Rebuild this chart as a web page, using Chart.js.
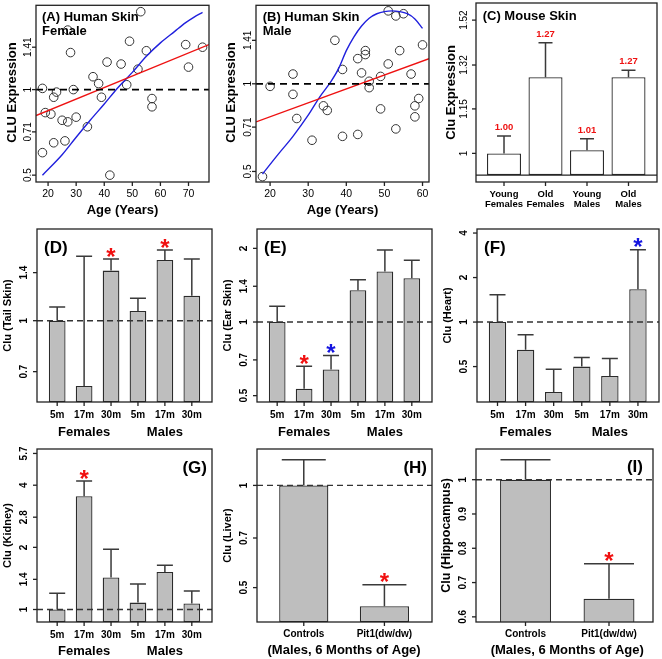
<!DOCTYPE html>
<html>
<head>
<meta charset="utf-8">
<title>Clu expression</title>
<script src="https://cdn.jsdelivr.net/npm/chart.js@4.4.1/dist/chart.umd.min.js"></script>
<style>
  body { margin: 0; background: #fff; }
  #wrap { position: relative; width: 662px; height: 659px; overflow: hidden; }
  #wrap canvas { position: absolute; left: 0; top: 0; }
</style>
</head>
<body>
<div id="wrap"></div>
<script>
var FONT = '"Liberation Sans", Arial, Helvetica, sans-serif';
var RED = '#ee1111';
var BLUE = '#2020dd';
var STAR = { red: '#f01010', blue: '#1515e0' };

// (A) human skin, female
var femaleAge = [18, 18, 19, 21, 22, 22, 23, 25, 26, 27, 27, 28, 29, 30, 34, 36, 38, 39, 41, 42, 46, 48, 49, 52, 53, 55, 57, 57, 69, 70, 75];
var femaleClu = [1.01, 0.60, 0.83, 0.82, 0.94, 0.65, 0.98, 0.78, 0.66, 1.62, 0.77, 1.35, 1.00, 0.80, 0.74, 1.11, 1.05, 0.94, 1.25, 0.50, 1.23, 1.04, 1.48, 1.18, 1.88, 1.37, 0.93, 0.87, 1.44, 1.20, 1.41];
var femaleFitAge = [15.7, 77.3];
var femaleFitClu = [0.81, 1.44];
var femaleSmoothAge = [18, 25, 30, 35, 40, 45, 50, 55, 60, 65, 69, 72, 75];
var femaleSmoothClu = [0.50, 0.59, 0.68, 0.78, 0.89, 1.02, 1.15, 1.31, 1.46, 1.60, 1.72, 1.80, 1.87];

// (B) human skin, male
var maleAge = [18, 20, 26, 26, 27, 31, 34, 35, 37, 39, 39, 43, 43, 44, 45, 45, 46, 46, 49, 49, 51, 51, 53, 53, 54, 55, 57, 58, 58, 59, 60];
var maleClu = [0.48, 0.98, 1.08, 0.92, 0.76, 0.64, 0.84, 0.81, 1.41, 1.12, 0.66, 1.22, 0.67, 1.09, 1.30, 1.26, 1.02, 0.97, 1.06, 0.82, 1.78, 1.17, 1.71, 0.70, 1.30, 1.74, 1.08, 0.84, 0.77, 0.89, 1.36];
var maleFitAge = [16.3, 61.7];
var maleFitClu = [0.74, 1.22];
var maleSmoothAge = [18, 22, 26, 30, 33, 36, 38, 40, 42, 44, 46, 48, 50, 52, 54, 56, 58, 60];
var maleSmoothClu = [0.49, 0.57, 0.66, 0.78, 0.90, 1.02, 1.13, 1.30, 1.45, 1.58, 1.68, 1.74, 1.77, 1.78, 1.77, 1.74, 1.67, 1.55];

// (C) mouse skin
var mouseGroups = [['Young', 'Females'], ['Old', 'Females'], ['Young', 'Males'], ['Old', 'Males']];
var mouseMean = [1.00, 1.27, 1.01, 1.27];
var mouseUpper = [1.056, 1.416, 1.047, 1.298];
var mouseText = ['1.00', '1.27', '1.01', '1.27'];

// (D)-(G) tissues by age and sex
var ageGroups = ['5m', '17m', '30m', '5m', '17m', '30m'];
var tailMean = [1.00, 0.633, 1.42, 1.07, 1.53, 1.19];
var tailUpper = [1.10, 1.57, 1.54, 1.17, 1.64, 1.54];
var tailStars = ['', '', 'red', '', 'red', ''];
var earMean = [1.00, 0.533, 0.64, 1.35, 1.61, 1.51];
var earUpper = [1.16, 0.66, 0.73, 1.49, 1.97, 1.79];
var earStars = ['', 'red', 'blue', '', '', ''];
var heartMean = [1.00, 0.65, 0.337, 0.50, 0.432, 1.67];
var heartUpper = [1.53, 0.82, 0.48, 0.576, 0.567, 3.08];
var heartStars = ['', '', '', '', '', 'blue'];
var kidneyMean = [1.00, 3.54, 1.43, 1.08, 1.52, 1.07];
var kidneyUpper = [1.20, 4.19, 1.96, 1.33, 1.64, 1.23];
var kidneyStars = ['', 'red', '', '', '', ''];

// (H)-(I) Pit1 dwarf mice
var pitGroups = ['Controls', 'Pit1(dw/dw)'];
var liverMean = [1.00, 0.441];
var liverUpper = [1.19, 0.51];
var hippoMean = [1.00, 0.653];
var hippoUpper = [1.058, 0.755];
var pitStars = ['', 'red'];

// tick labels
var skinTicks = [0.5, 0.71, 1, 1.41];
var femaleAgeTicks = [20, 30, 40, 50, 60, 70];
var maleAgeTicks = [20, 30, 40, 50, 60];
var mouseTicks = [1, 1.15, 1.32, 1.52];
var tailTicks = [0.7, 1, 1.4];
var earTicks = [0.5, 0.7, 1, 1.4, 2];
var heartTicks = [0.5, 1, 2, 4];
var kidneyTicks = [1, 1.4, 2, 2.8, 4, 5.7];
var liverTicks = [0.5, 0.7, 1];
var hippoTicks = [0.6, 0.7, 0.8, 0.9, 1];

function pts(xs, ys) {
    return xs.map(function (x, i) { return { x: x, y: ys[i] }; });
}
function idx(arr) {
    return arr.map(function (v, i) { return i; });
}

function tx(ctx, s, x, y, font, color, align, rot) {
    ctx.save();
    ctx.font = font;
    ctx.fillStyle = color || '#000';
    ctx.textAlign = align || 'center';
    ctx.textBaseline = 'middle';
    ctx.translate(x, y);
    if (rot) ctx.rotate(-Math.PI / 2);
    ctx.fillText(s, 0, 0);
    ctx.restore();
}

// draws the R style frame, ticks, error bars and notes
function decoPlugin(d) {
    return {
        id: 'rDeco',
        afterDatasetsDraw: function (chart) {
            var ctx = chart.ctx, xs = chart.scales.x, ys = chart.scales.y, a = chart.chartArea;
            ctx.save();
            if (d.baseLine) {
                var yb = ys.getPixelForValue(d.baseLine);
                ctx.strokeStyle = '#222'; ctx.lineWidth = 1.3;
                ctx.beginPath(); ctx.moveTo(a.left, yb); ctx.lineTo(a.right, yb); ctx.stroke();
            }
            if (d.refLine) {
                var yr = ys.getPixelForValue(d.refLine);
                ctx.strokeStyle = d.refColor || '#333'; ctx.lineWidth = d.refWidth || 1.4;
                ctx.setLineDash(d.refDash || [6, 4]);
                ctx.beginPath(); ctx.moveTo(a.left, yr); ctx.lineTo(a.right, yr); ctx.stroke();
                ctx.setLineDash([]);
            }
            if (d.upper) {
                ctx.strokeStyle = '#3a3a3a'; ctx.lineWidth = 1.5;
                d.upper.forEach(function (u, i) {
                    var x = xs.getPixelForValue(i), y0 = ys.getPixelForValue(d.mean[i]), y1 = ys.getPixelForValue(u);
                    ctx.beginPath();
                    ctx.moveTo(x, y0); ctx.lineTo(x, y1);
                    ctx.moveTo(x - d.cap, y1); ctx.lineTo(x + d.cap, y1);
                    ctx.stroke();
                    if (d.stars && d.stars[i]) {
                        ctx.save();
                        ctx.font = 'bold 24px ' + FONT;
                        ctx.fillStyle = STAR[d.stars[i]];
                        ctx.textAlign = 'center';
                        ctx.textBaseline = 'alphabetic';
                        ctx.fillText('*', x, y1 + 5.5);
                        ctx.restore();
                    }
                    if (d.valueText) {
                        tx(ctx, d.valueText[i], x, y1 - 8.5, 'bold 9.5px ' + FONT, RED);
                    }
                });
            }
            // box
            ctx.strokeStyle = '#222'; ctx.lineWidth = 1.3;
            ctx.strokeRect(a.left, a.top, a.right - a.left, a.bottom - a.top);
            // y axis
            d.yTicks.forEach(function (v) {
                var y = ys.getPixelForValue(v);
                ctx.beginPath(); ctx.moveTo(a.left - 4, y); ctx.lineTo(a.left, y); ctx.stroke();
                tx(ctx, String(v), a.left - d.yLabOff, y, d.yFont, '#000', 'center', true);
            });
            // x axis
            d.xTicks.forEach(function (v, i) {
                var x = xs.getPixelForValue(v);
                ctx.beginPath(); ctx.moveTo(x, a.bottom); ctx.lineTo(x, a.bottom + 4); ctx.stroke();
                var lab = d.xLabels[i];
                if (Array.isArray(lab)) {
                    lab.forEach(function (s, k) { tx(ctx, s, x, a.bottom + d.xLabOff + k * 10, d.xFont); });
                } else {
                    tx(ctx, lab, x, a.bottom + d.xLabOff, d.xFont);
                }
            });
            (d.texts || []).forEach(function (t) {
                var x = t.xv !== undefined ? xs.getPixelForValue(t.xv) : t.x;
                tx(ctx, t.s, x, t.y, t.font, t.color, t.align, t.rot);
            });
            ctx.restore();
        }
    };
}

function panel(p) {
    var cv = document.createElement('canvas');
    cv.width = 662;
    cv.height = 659;
    document.getElementById('wrap').appendChild(cv);
    var r = p.rect;
    return new Chart(cv, {
        type: p.type,
        data: { datasets: p.datasets },
        options: {
            responsive: false,
            animation: false,
            devicePixelRatio: 1,
            layout: { padding: { left: r[0], top: r[1], right: 662 - r[2], bottom: 659 - r[3] } },
            scales: {
                x: {
                    type: 'linear', display: false, offset: false, min: p.xMin, max: p.xMax, bounds: 'data',
                    afterBuildTicks: function (s) { s.ticks = p.deco.xTicks.map(function (v) { return { value: v }; }); }
                },
                y: { type: p.yLog === false ? 'linear' : 'logarithmic', display: false, offset: false, min: p.yMin, max: p.yMax, bounds: 'data' }
            },
            plugins: { legend: { display: false }, tooltip: { enabled: false } }
        },
        plugins: [decoPlugin(p.deco)]
    });
}

function scatterSets(ax, ay, fx, fy, sx, sy) {
    return [
        { data: pts(fx, fy), showLine: true, pointRadius: 0, borderColor: RED, borderWidth: 1.4 },
        { data: pts(sx, sy), showLine: true, pointRadius: 0, borderColor: BLUE, borderWidth: 1.4, cubicInterpolationMode: 'monotone' },
        { data: pts(ax, ay), showLine: false, pointRadius: 4.3, pointBorderColor: '#333', pointBackgroundColor: 'rgba(0,0,0,0)', pointBorderWidth: 1 }
    ];
}

function barSet(mean, fill, pct, base) {
    var ds = {
        type: 'bar',
        data: mean.map(function (v, i) { return { x: i, y: v }; }),
        backgroundColor: fill, borderColor: '#2b2b2b', borderWidth: 1.3, borderSkipped: false,
        categoryPercentage: 1, barPercentage: pct
    };
    if (base) ds.base = base;
    return [ds];
}

var B13 = 'bold 13px ' + FONT;
var B11 = 'bold 11px ' + FONT;
var B17 = 'bold 17px ' + FONT;
var N10 = '10px ' + FONT;
var BT10 = 'bold 10px ' + FONT;

// (A)
panel({
    type: 'scatter', rect: [36, 3, 209, 182], xMin: 15.7, xMax: 77.3, yMin: 0.473, yMax: 1.98,
    datasets: scatterSets(femaleAge, femaleClu, femaleFitAge, femaleFitClu, femaleSmoothAge, femaleSmoothClu),
    deco: {
        refLine: 1, refColor: '#000', refWidth: 1.8, refDash: [7, 5],
        yTicks: skinTicks, yLabOff: 8, yFont: N10,
        xTicks: femaleAgeTicks, xLabels: femaleAgeTicks.map(String), xLabOff: 12, xFont: '10.5px ' + FONT,
        texts: [
            { s: '(A) Human Skin', x: 42, y: 17, font: B13, align: 'left' },
            { s: 'Female', x: 42, y: 31, font: B13, align: 'left' },
            { s: 'CLU Expression', x: 12, y: 92.5, font: B13, rot: true },
            { s: 'Age (Years)', x: 122.5, y: 210, font: B13 }
        ]
    }
});

// (B)
panel({
    type: 'scatter', rect: [256, 3, 429, 182], xMin: 16.3, xMax: 61.7, yMin: 0.46, yMax: 1.86,
    datasets: scatterSets(maleAge, maleClu, maleFitAge, maleFitClu, maleSmoothAge, maleSmoothClu),
    deco: {
        refLine: 1, refColor: '#000', refWidth: 1.8, refDash: [7, 5],
        yTicks: skinTicks, yLabOff: 8, yFont: N10,
        xTicks: maleAgeTicks, xLabels: maleAgeTicks.map(String), xLabOff: 12, xFont: '10.5px ' + FONT,
        texts: [
            { s: '(B) Human Skin', x: 262.7, y: 17, font: B13, align: 'left' },
            { s: 'Male', x: 262.7, y: 31, font: B13, align: 'left' },
            { s: 'CLU Expression', x: 231, y: 92.5, font: B13, rot: true },
            { s: 'Age (Years)', x: 342.5, y: 210, font: B13 }
        ]
    }
});

// (C)
panel({
    type: 'bar', rect: [476, 3, 657, 182], xMin: -0.675, xMax: 3.687, yMin: 0.914, yMax: 1.604,
    datasets: barSet(mouseMean, '#ffffff', 0.82, 0.934),
    deco: {
        baseLine: 0.934, mean: mouseMean, upper: mouseUpper, cap: 7, valueText: mouseText,
        yTicks: mouseTicks, yLabOff: 11.5, yFont: N10,
        xTicks: idx(mouseGroups), xLabels: mouseGroups, xLabOff: 12, xFont: 'bold 9.5px ' + FONT,
        texts: [
            { s: '(C) Mouse Skin', x: 482.7, y: 16, font: B13, align: 'left' },
            { s: 'Clu Expression', x: 451, y: 92.5, font: B13, rot: true }
        ]
    }
});

function tissuePanel(rect, xMin, xMax, yMin, yMax, mean, upper, stars, ticks, tag, ylab, groupY) {
    var texts = [
        { s: ylab, x: rect[0] - 29, y: (rect[1] + rect[3]) / 2, font: B11, rot: true },
        { s: 'Females', xv: 1, y: groupY, font: B13 },
        { s: 'Males', xv: 4, y: groupY, font: B13 }
    ];
    texts.push(tag);
    panel({
        type: 'bar', rect: rect, xMin: xMin, xMax: xMax, yMin: yMin, yMax: yMax,
        datasets: barSet(mean, '#bebebe', 0.62),
        deco: {
            refLine: 1, mean: mean, upper: upper, cap: 8, stars: stars,
            yTicks: ticks, yLabOff: 12.5, yFont: BT10,
            xTicks: idx(ageGroups), xLabels: ageGroups, xLabOff: 13, xFont: BT10,
            texts: texts
        }
    });
}

// (D) (E) (F) (G)
tissuePanel([37, 229, 212, 402], -0.75, 5.75, 0.566, 1.90, tailMean, tailUpper, tailStars, tailTicks,
    { s: '(D)', x: 44, y: 248, font: B17, align: 'left' }, 'Clu (Tail Skin)', 432);
tissuePanel([257, 229, 432, 402], -0.75, 5.75, 0.471, 2.40, earMean, earUpper, earStars, earTicks,
    { s: '(E)', x: 264, y: 248, font: B17, align: 'left' }, 'Clu (Ear Skin)', 432);
tissuePanel([477, 229, 659, 402], -0.73, 5.75, 0.288, 4.26, heartMean, heartUpper, heartStars, heartTicks,
    { s: '(F)', x: 484, y: 248, font: B17, align: 'left' }, 'Clu (Heart)', 432);
tissuePanel([37, 449, 212, 622], -0.75, 5.75, 0.87, 5.99, kidneyMean, kidneyUpper, kidneyStars, kidneyTicks,
    { s: '(G)', x: 207, y: 468, font: B17, align: 'right' }, 'Clu (Kidney)', 651);

function pitPanel(rect, xMin, xMax, yMin, yMax, yLog, mean, upper, ticks, tag, ylab, ylabFont, cap) {
    panel({
        type: 'bar', rect: rect, xMin: xMin, xMax: xMax, yMin: yMin, yMax: yMax, yLog: yLog,
        datasets: barSet(mean, '#bebebe', 0.61),
        deco: {
            refLine: 1, mean: mean, upper: upper, cap: cap, stars: pitStars,
            yTicks: ticks, yLabOff: 12.5, yFont: BT10,
            xTicks: idx(pitGroups), xLabels: pitGroups, xLabOff: 12, xFont: BT10,
            texts: [
                { s: ylab, x: rect[0] - 29, y: (rect[1] + rect[3]) / 2, font: ylabFont, rot: true },
                { s: '(Males, 6 Months of Age)', xv: 0.5, y: 650, font: B13 },
                tag
            ]
        }
    });
}

// (H) (I)
pitPanel([257, 449, 432, 622], -0.58, 1.59, 0.396, 1.28, true, liverMean, liverUpper, liverTicks,
    { s: '(H)', x: 427, y: 468, font: B17, align: 'right' }, 'Clu (Liver)', B11, 22);
pitPanel([476, 449, 653, 622], -0.593, 1.527, 0.585, 1.0895, false, hippoMean, hippoUpper, hippoTicks,
    { s: '(I)', x: 643, y: 467, font: B17, align: 'right' }, 'Clu (Hippocampus)', 'bold 12.5px ' + FONT, 25);
</script>
</body>
</html>
